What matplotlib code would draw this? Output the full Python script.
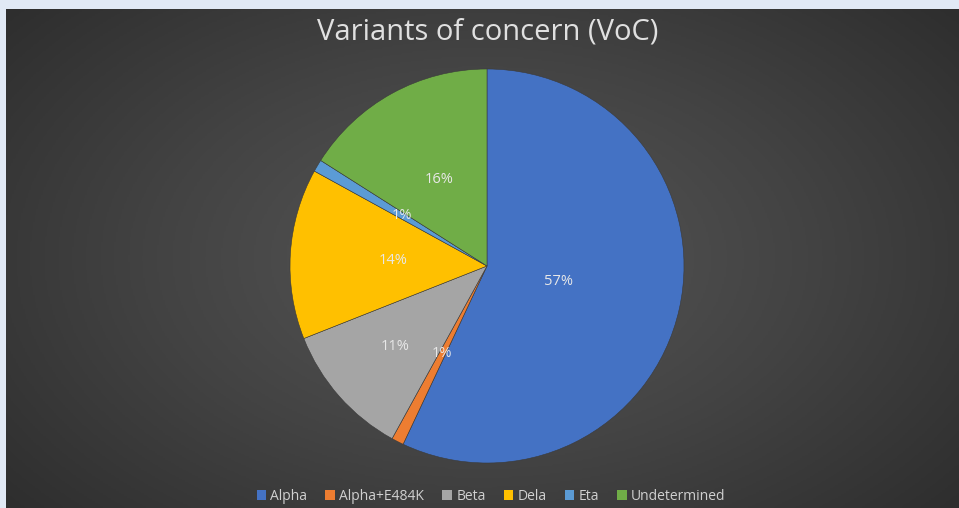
import numpy as np
import matplotlib.pyplot as plt

# Datos del gráfico
variantes = ["Alpha", "Alpha+E484K", "Beta", "Dela", "Eta", "Undetermined"]
porcentajes = [57, 1, 11, 14, 1, 16]
colores = ["#4472C4", "#ED7D31", "#A5A5A5", "#FFC000", "#5B9BD5", "#70AD47"]
dist_etiquetas = [0.37, 0.5, 0.62, 0.48, 0.5, 0.5]

fig = plt.figure(figsize=(9.59, 5.08), dpi=100, facecolor="#e1e9f5")

# Fondo con degradado radial
bg = fig.add_axes([6 / 959, 0, 953 / 959, 499 / 508])
yy, xx = np.mgrid[-1:1:300j, -1:1:600j]
r = np.sqrt((xx * 0.95) ** 2 + (yy * 0.8) ** 2)
bg.imshow(np.clip(r, 0, 1.3), cmap=plt.matplotlib.colors.LinearSegmentedColormap.from_list(
    "fondo", ["#575757", "#434343", "#2c2c2c"]), vmin=0, vmax=1.3,
    aspect="auto", extent=[0, 1, 0, 1])
bg.set_axis_off()

# Pastel
ax = fig.add_axes([290 / 959, 45 / 508, 394 / 959, 394 / 508])
wedges, _ = ax.pie(porcentajes, colors=colores, startangle=90, counterclock=False,
                   radius=1, wedgeprops=dict(edgecolor="#3a3a3a", linewidth=0.4))
for w, p, d in zip(wedges, porcentajes, dist_etiquetas):
    ang = np.deg2rad((w.theta1 + w.theta2) / 2)
    ax.text(d * np.cos(ang), d * np.sin(ang), f"{p}%", ha="center", va="center",
            color="#e8e8e8", fontsize=10.5, family="Open Sans")
ax.set_xlim(-1, 1)
ax.set_ylim(-1, 1)
ax.set_aspect("equal")
ax.set_axis_off()

fig.text(488 / 959, 1 - 32 / 508, "Variants of concern (VoC)", ha="center", va="center",
         color="#e0e0e0", fontsize=21, family="Open Sans")

leg = fig.legend(wedges, variantes, loc="center", bbox_to_anchor=(491 / 959, 12 / 508),
                 ncol=6, frameon=False, labelcolor="#d0d0d0",
                 handlelength=0.7, handleheight=0.7, handletextpad=0.3, columnspacing=1.3,
                 prop={"family": "Open Sans", "size": 10})
for h in leg.legend_handles:
    h.set_edgecolor("none")

fig.savefig("out.png", dpi=100, facecolor=fig.get_facecolor())
